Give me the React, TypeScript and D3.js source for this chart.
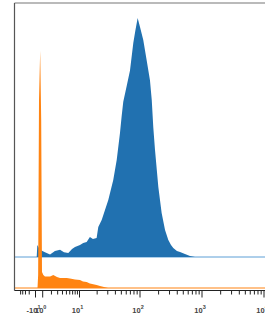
import React from 'react';
import * as d3 from 'd3';

const W = 265;
const H = 321;

// blue sample: fluorescence value vs % of mode
const blueValues = [-3.2, -1.6, 0.28, 1.22, 1.81, 2.53, 3.46, 4.36, 5.55, 6.78, 7.93, 10.2, 11.6, 13.3, 15.1, 17, 19.6, 20.9, 23.8, 27, 30.6, 36.9, 42, 47.5, 50.6, 53.7, 61, 69, 78, 84.5, 91.7, 100, 113, 128, 145, 155, 164, 175, 198, 224, 254, 287, 317, 345, 395, 443, 532, 640, 772];
const blueCounts = [0, 5, 3, 2, 1, 2.5, 3, 2, 1.7, 3.3, 4.2, 5, 5.9, 6.3, 8.4, 7.5, 8, 12.6, 15.5, 19.7, 23.8, 32.2, 40.6, 51.9, 59, 65, 71.5, 78, 89.5, 95, 100, 96.2, 90.8, 82.4, 74, 65.7, 54.4, 44.8, 29.3, 18.4, 11.3, 7.1, 5, 3.8, 2.5, 2.1, 1.3, 0.4, 0];

// orange sample
const orangeValues = [-1.22, -0.33, 0.086, 0.32, 0.56, 0.78, 1.06, 1.22, 1.81, 2.27, 2.87, 3.46, 5.08, 6.08, 7.93, 10.2, 11.5, 13.3, 15.1, 19.6, 22.3, 27, 30.3];
const orangeCounts = [0, 5.5, 79, 100, 71, 6.7, 5.5, 4.8, 4.8, 5.5, 4.6, 4.2, 4.2, 4, 3.6, 3.4, 2.7, 2.5, 1.9, 1.3, 0.8, 0.3, 0];

const majorTicks = [-10, 1, 10, 100, 1000, 10000];
const majorBase = ['-10', '10', '10', '10', '10', '10'];
const majorExp = ['1', '0', '1', '2', '3', '4'];
const negMinor = [-20, -30, -40, -50];

const BLUE = '#2171b0';
const ORANGE = '#ff8412';

export default function App() {
  const left = 14.5;
  const top = 3;
  const axisY = 290.5;

  // biexponential-like display: piecewise linear in signed log space
  const tf = (v: number) => Math.sign(v) * Math.log10(1 + Math.abs(v));
  const xT = d3.scaleLinear()
    .domain([-100, -10, 0, 1, 10, 100, 1000, 10000].map(tf))
    .range([14, 35.5, 38.5, 42.7, 79.5, 140, 202, 264]);
  const x = (v: number) => xT(tf(v));

  const yBlue = d3.scaleLinear().domain([0, 100]).range([257, 18]);
  const yOrange = d3.scaleLinear().domain([0, 100]).range([288, 50.7]);

  const blueArea = d3.area<number>()
    .x((d, i) => x(blueValues[i]))
    .y0(yBlue(0))
    .y1((d) => yBlue(d));
  const orangeArea = d3.area<number>()
    .x((d, i) => x(orangeValues[i]))
    .y0(yOrange(0))
    .y1((d) => yOrange(d));

  const posMinor: number[] = [];
  [1, 10, 100, 1000].forEach((dec) => {
    d3.range(2, 10).forEach((m) => posMinor.push(dec * m));
  });
  const minor = [...negMinor, ...posMinor];

  return (
    <svg width={W} height={H} style={{ position: 'absolute', left: 0, top: 0, background: '#fff' }}>
      <line x1={left} x2={W} y1={yBlue(0)} y2={yBlue(0)} stroke="#5d9fd6" strokeWidth={1} />
      <line x1={left} x2={W} y1={yOrange(0)} y2={yOrange(0)} stroke={ORANGE} strokeWidth={1.2} />
      <path d={blueArea(blueCounts) ?? ''} fill={BLUE} />
      <path d={orangeArea(orangeCounts) ?? ''} fill={ORANGE} />

      <line x1={left} x2={W} y1={top} y2={top} stroke="#777" strokeWidth={1.2} />
      <line x1={left} x2={left} y1={top} y2={axisY} stroke="#555" strokeWidth={1.2} />
      <line x1={left} x2={W} y1={axisY} y2={axisY} stroke="#222" strokeWidth={1.2} />

      {minor.map((v) => (
        <line key={`m${v}`} x1={x(v)} x2={x(v)} y1={axisY} y2={axisY + 4} stroke="#222" strokeWidth={1} />
      ))}
      {majorTicks.map((v, i) => (
        <g key={`M${v}`}>
          <line x1={x(v)} x2={x(v)} y1={axisY} y2={axisY + 7} stroke="#222" strokeWidth={1} />
          <text
            x={x(v) - 2}
            y={313}
            textAnchor="middle"
            fontFamily="Liberation Sans, Arial, sans-serif"
            fontSize={7.5}
            fontWeight="bold"
            fill="#444"
          >
            {majorBase[i]}
            <tspan dy={-4} fontSize={5.5}>{majorExp[i]}</tspan>
          </text>
        </g>
      ))}
    </svg>
  );
}
